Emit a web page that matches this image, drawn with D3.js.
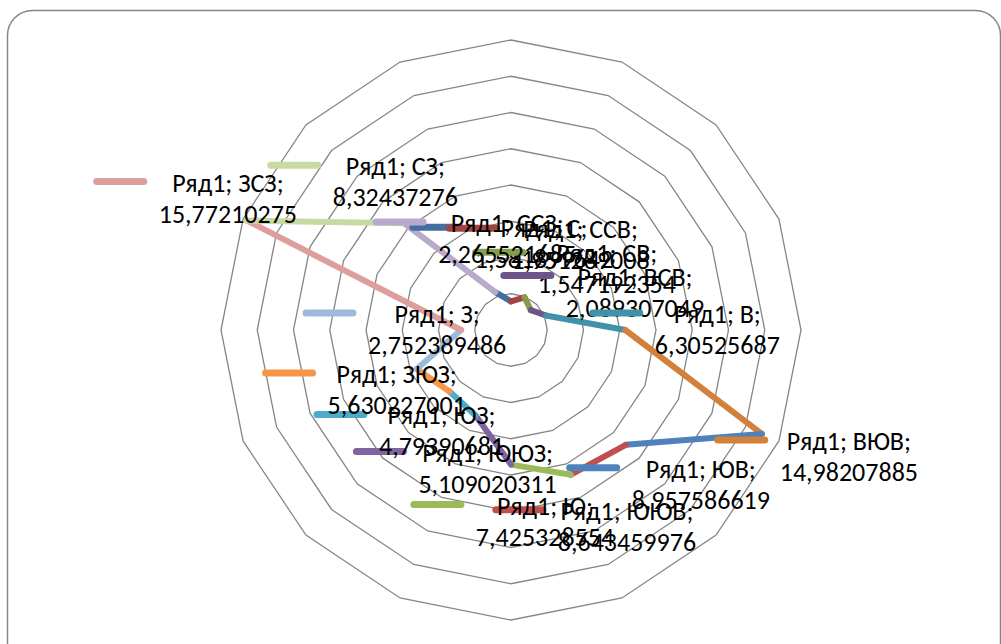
<!DOCTYPE html>
<html>
<head>
<meta charset="utf-8">
<script src="https://cdn.jsdelivr.net/npm/d3@7"></script>
<style>
  body{margin:0;background:#fff;}
  svg text{font-family:Calibri,Carlito,"Open Sans","Noto Sans",sans-serif;font-size:26px;fill:#000;}
</style>
</head>
<body>
<svg id="chart"></svg>
<script>
let width = 1001, height = 644;
const cx = 511, cy = 330, radius = 290;

// wind directions (clockwise from north) and values of series "Ряд1"
const seriesName = "Ряд1";
const categories = ["С","ССВ","СВ","ВСВ","В","ВЮВ","ЮВ","ЮЮВ","Ю","ЮЮЗ","ЮЗ","ЗЮЗ","З","ЗСЗ","СЗ","ССЗ"];
const values = [1.581899642, 1.951289008, 1.547192354, 2.089307049, 6.30525687, 14.98207885,
                8.957586619, 8.643459976, 7.425328554, 5.109020311, 4.79390681, 5.630227001,
                2.752389486, 15.77210275, 8.32437276, 2.265521685];
const gridTicks = [2,4,6,8,10,12,14,16];

// excel "vary colours by point": darker accents, accents, lighter accents
const accents = ["#4F81BD","#C0504D","#9BBB59","#8064A2","#4BACC6","#F79646"];
const palette = categories.map((c,i)=>{
  const base = d3.rgb(accents[i%6]);
  if(i<6) return d3.rgb(base.r*.85, base.g*.85, base.b*.85).formatHex();
  if(i<12) return base.formatHex();
  return d3.interpolateRgb(base, "#fff")(.45);
});

// where excel left each data label, relative to its point: [dx of box centre, dy of first baseline]
const labelNudge = [[33,-64],[56,-59],[76,-48],[89,-30],[92,-7],[87,16],[75,33],[56,45],
                    [34,50],[12,46],[-8,33],[-20,14],[-24,-7],[-19,-29],[-9,-48],[12,-60]];

const r = d3.scaleLinear().domain([0,16]).range([0,radius]);
const angle = d3.scaleLinear().domain([0,categories.length]).range([0,2*Math.PI]);
const pt = i => {
  const p = d3.pointRadial(angle(i), r(values[i]));
  return [p[0]+cx, p[1]+cy];
};

const svg = d3.select('#chart').attr('width',width).attr('height',height);

svg.append('rect')
  .attr('x',7.5).attr('y',10.5)
  .attr('width',993).attr('height',660)
  .attr('rx',25).attr('ry',25)
  .attr('fill','#fff')
  .attr('stroke','#868686').attr('stroke-width',1.5);

const plot = svg.append('g').attr('transform',`translate(${cx},${cy})`);

// concentric 16-gons
const ring = d3.lineRadial()
  .angle((d,i)=>angle(i))
  .radius(d=>r(d))
  .curve(d3.curveLinearClosed);
plot.selectAll('.grid')
  .data(gridTicks)
  .join('path')
    .classed('grid',true)
    .attr('d',t=>ring(categories.map(()=>t)))
    .attr('fill','none')
    .attr('stroke','#868686')
    .attr('stroke-width',1.3);

// each point's colour runs from that point back to the previous one
const n = categories.length;
svg.selectAll('.seg')
  .data(d3.range(n))
  .join('line')
    .classed('seg',true)
    .attr('x1',i=>pt(i)[0]).attr('y1',i=>pt(i)[1])
    .attr('x2',i=>pt((i-1+n)%n)[0]).attr('y2',i=>pt((i-1+n)%n)[1])
    .attr('stroke',i=>palette[i])
    .attr('stroke-width',6)
    .attr('stroke-linecap','round');

// data labels with legend key
const fmt = v=>String(v).replace('.',',');
const labels = svg.selectAll('.lbl')
  .data(d3.range(n))
  .join('g')
    .classed('lbl',true);

labels.each(function(i){
  const g = d3.select(this);
  const p = pt(i);
  const x = p[0]+labelNudge[i][0], y = p[1]+labelNudge[i][1];
  const key = g.append('line');
  const t1 = g.append('text').attr('x',x).attr('y',y).attr('text-anchor','middle')
    .text(`${seriesName}; ${categories[i]};`);
  const t2 = g.append('text').attr('x',x).attr('y',y+31).attr('text-anchor','middle')
    .text(fmt(values[i]));
  const w = Math.max(t1.node().getComputedTextLength(), t2.node().getComputedTextLength());
  const right = x - w/2 - 11;
  key.attr('x1',right-51).attr('x2',right-4)
    .attr('y1',y-10).attr('y2',y-10)
    .attr('stroke',palette[i])
    .attr('stroke-width',7)
    .attr('stroke-linecap','round');
});
</script>
</body>
</html>
